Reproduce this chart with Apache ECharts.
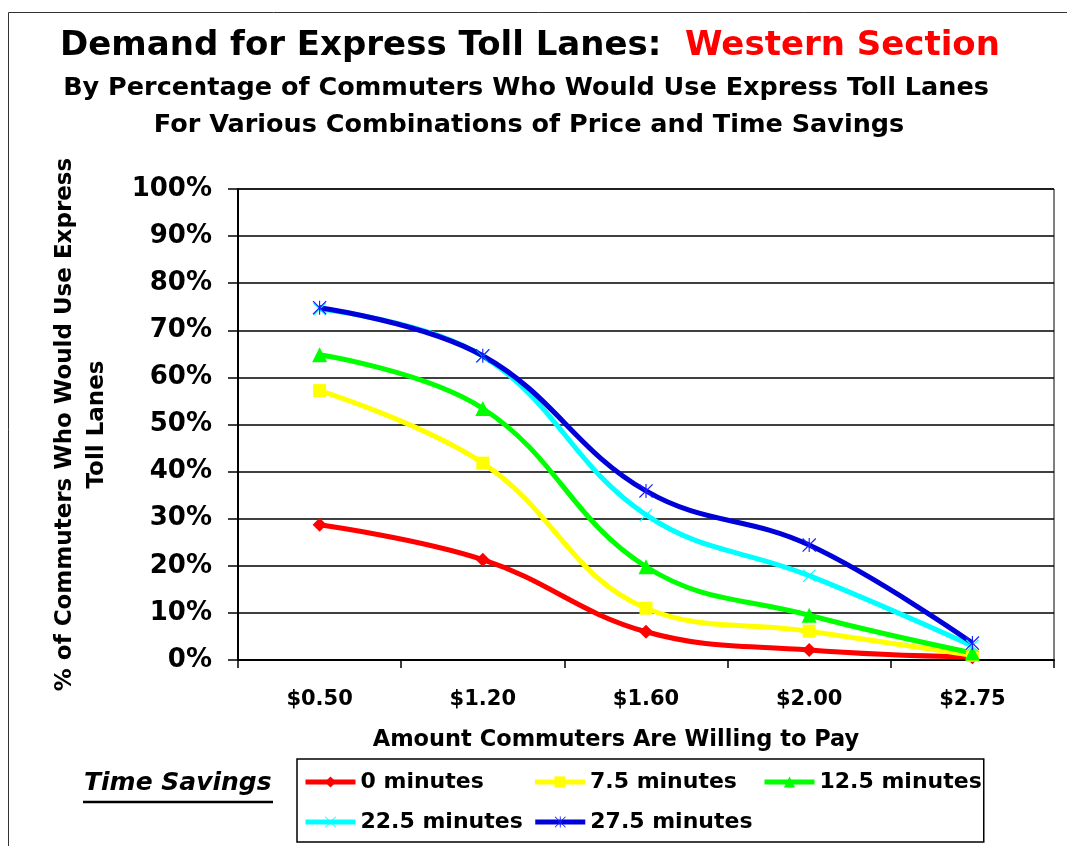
<!DOCTYPE html>
<html>
<head>
<meta charset="utf-8">
<title>Demand for Express Toll Lanes: Western Section</title>
<script src="https://cdn.jsdelivr.net/npm/echarts@6/dist/echarts.min.js"></script>
<style>
  html, body { margin: 0; padding: 0; background: #ffffff; }
  #chart { width: 1067px; height: 846px; }
</style>
</head>
<body>
<div id="chart"></div>
<script>
// Toll price categories (x axis)
const prices = ['$0.50', '$1.20', '$1.60', '$2.00', '$2.75'];

// Share of commuters (%) who would use the express toll lanes, per time saving
const min0   = [28.7, 21.3, 6.0, 2.1, 0.6];
const min7_5 = [57.2, 41.8, 11.0, 6.1, 1.0];
const min12_5 = [64.8, 53.4, 19.8, 9.5, 1.5];
const min22_5 = [74.5, 64.5, 30.8, 17.9, 3.0];
const min27_5 = [74.8, 64.6, 35.9, 24.4, 3.6];

const seriesNames = ['0 minutes', '7.5 minutes', '12.5 minutes', '22.5 minutes', '27.5 minutes'];

const FONT = 'DejaVu Sans';

// Stroke-like marker shapes built as filled paths
const crossPath = 'path://M0,1.2 L1.2,0 L20,18.8 L18.8,20 Z M18.8,0 L20,1.2 L1.2,20 L0,18.8 Z';
const starPath = 'path://M0,1.2 L1.2,0 L20,18.8 L18.8,20 Z M18.8,0 L20,1.2 L1.2,20 L0,18.8 Z M9.2,0 L10.8,0 L10.8,20 L9.2,20 Z';

function lineSeries(name, data, color, symbol, symbolSize, lineColor) {
  return {
    name: name,
    type: 'line',
    data: data,
    smooth: 0.4,
    symbol: symbol,
    symbolSize: symbolSize,
    showAllSymbol: true,
    lineStyle: { color: lineColor || color, width: 5 },
    itemStyle: { color: color, borderWidth: 0 },
    emphasis: { disabled: true },
    z: 3
  };
}

const chart = echarts.init(document.getElementById('chart'), null, { renderer: 'canvas' });

chart.setOption({
  animation: false,
  backgroundColor: '#ffffff',
  textStyle: { fontFamily: FONT },
  title: [
    {
      left: 525, top: 24, textAlign: 'center',
      text: '{a|Demand for Express Toll Lanes:  }{b|Western Section}',
      textStyle: {
        rich: {
          a: { fontFamily: FONT, fontWeight: 'bold', fontSize: 34, color: '#000000' },
          b: { fontFamily: FONT, fontWeight: 'bold', fontSize: 34, color: '#ff0000' }
        }
      }
    },
    {
      left: 521, top: 70, textAlign: 'center',
      text: 'By Percentage of Commuters Who Would Use Express Toll Lanes',
      textStyle: { fontFamily: FONT, fontWeight: 'bold', fontSize: 25.5, color: '#000000' }
    },
    {
      left: 524, top: 107, textAlign: 'center',
      text: 'For Various Combinations of Price and Time Savings',
      textStyle: { fontFamily: FONT, fontWeight: 'bold', fontSize: 25.5, color: '#000000' }
    }
  ],
  grid: {
    left: 238, right: 13, top: 189, bottom: 186,
    show: true, borderColor: '#000000', borderWidth: 1, backgroundColor: 'transparent'
  },
  legend: {
    left: 297, top: 759, width: 690,
    orient: 'horizontal',
    padding: [8, 2, 5, 6],
    borderColor: '#000000', borderWidth: 1.5,
    itemWidth: 50, itemHeight: 14, itemGap: 10,
    lineStyle: { width: 5 },
    data: seriesNames,
    textStyle: {
      fontFamily: FONT, fontWeight: 'bold', fontSize: 22, color: '#000000',
      width: 162, lineHeight: 30
    },
    selectedMode: false
  },
  xAxis: {
    type: 'category',
    data: prices,
    boundaryGap: true,
    name: 'Amount Commuters Are Willing to Pay',
    nameLocation: 'middle',
    nameGap: 69,
    nameTextStyle: {
      fontFamily: FONT, fontWeight: 'bold', fontSize: 22.5, color: '#000000',
      padding: [0, 60, 0, 0]
    },
    axisLine: { lineStyle: { color: '#000000', width: 2 } },
    axisTick: { show: true, length: 8, lineStyle: { color: '#000000', width: 1.5 } },
    axisLabel: { margin: 29, fontFamily: FONT, fontWeight: 'bold', fontSize: 21, color: '#000000' },
    splitLine: { show: false }
  },
  yAxis: {
    type: 'value',
    min: 0, max: 100, interval: 10,
    name: '% of Commuters Who Would Use Express\nToll Lanes',
    nameLocation: 'middle',
    nameRotate: 90,
    nameGap: 125,
    nameTextStyle: { fontFamily: FONT, fontWeight: 'bold', fontSize: 23, lineHeight: 32, color: '#000000', align: 'center' },
    axisLine: { show: true, lineStyle: { color: '#000000', width: 2 } },
    axisTick: { show: true, length: 10, lineStyle: { color: '#000000', width: 1.5 } },
    axisLabel: {
      margin: 26, fontFamily: FONT, fontWeight: 'bold', fontSize: 26, color: '#000000',
      formatter: '{value}%'
    },
    splitLine: { show: true, lineStyle: { color: '#000000', width: 1.5 } }
  },
  series: [
    lineSeries(seriesNames[0], min0, '#ff0000', 'diamond', 14),
    lineSeries(seriesNames[1], min7_5, '#ffff00', 'rect', 13),
    lineSeries(seriesNames[2], min12_5, '#00ff00', 'triangle', 15),
    lineSeries(seriesNames[3], min22_5, '#00ffff', crossPath, 13),
    lineSeries(seriesNames[4], min27_5, '#1a1aff', starPath, 14, '#0000d8')
  ],
  graphic: [
    {
      // outer chart frame
      type: 'rect', silent: true, z: -1,
      shape: { x: 8.5, y: 12.5, width: 1100, height: 900 },
      style: { fill: 'transparent', stroke: '#333333', lineWidth: 1 }
    },
    {
      type: 'text', left: 84, top: 771,
      style: {
        text: 'Time Savings', fill: '#000000',
        font: 'italic bold 25px "DejaVu Sans"'
      }
    },
    {
      type: 'line', silent: true,
      shape: { x1: 83, y1: 802, x2: 273, y2: 802 },
      style: { stroke: '#000000', lineWidth: 2.5 }
    }
  ]
});
</script>
</body>
</html>
